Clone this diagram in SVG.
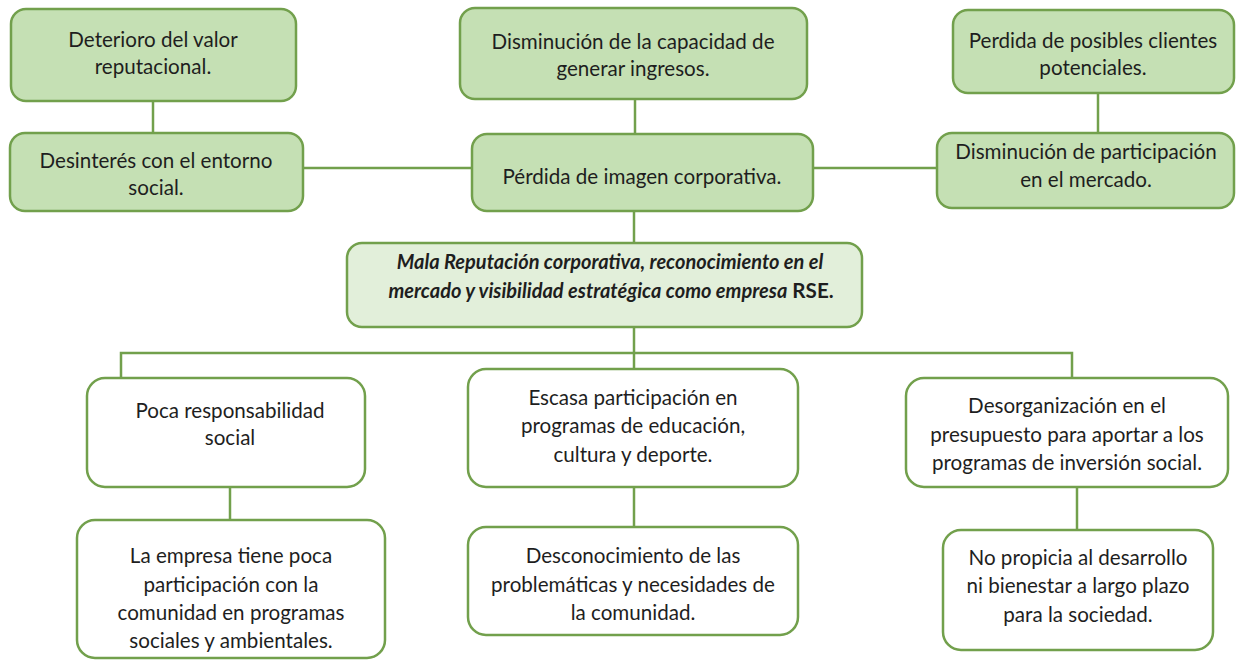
<svg xmlns="http://www.w3.org/2000/svg" width="1241" height="660" viewBox="0 0 1241 660">
<style>
.g{fill:#c5e0b4;stroke:#72a04c;stroke-width:2.5}
.c{fill:#e2efda;stroke:#72a04c;stroke-width:2.5}
.w{fill:#ffffff;stroke:#72a04c;stroke-width:2.5}
.t{font-family:Lato,"Open Sans",sans-serif;font-size:20.6px;fill:#1e1e1e;text-anchor:middle}
.b{font-weight:bold;font-style:italic;font-size:20px}
.e line,.e polyline{stroke:#72a04c;stroke-width:2.5;fill:none}
</style>
<rect width="1241" height="660" fill="#ffffff"/>
<g class="e" id="connectors">
<line x1="153" y1="101" x2="153" y2="133"/>
<line x1="303" y1="168" x2="472" y2="168"/>
<line x1="635" y1="99" x2="635" y2="134"/>
<line x1="813" y1="168" x2="937" y2="168"/>
<line x1="1098" y1="93" x2="1098" y2="133"/>
<line x1="634" y1="211" x2="634" y2="243"/>
<line x1="634" y1="327" x2="634" y2="369"/>
<polyline points="121,378 121,353 1072,353 1072,378"/>
<line x1="230" y1="487" x2="230" y2="520"/>
<line x1="634" y1="487" x2="634" y2="527"/>
<line x1="1077" y1="487" x2="1077" y2="530"/>
</g>
<g id="n1"><rect class="g" x="11" y="9" width="285" height="92" rx="15"/>
<text class="t" x="153" y="47">Deterioro del valor</text><text class="t" x="153" y="74">reputacional.</text></g>
<g id="n2"><rect class="g" x="10" y="133" width="293" height="78" rx="15"/>
<text class="t" x="156" y="168">Desinterés con el entorno</text><text class="t" x="156" y="195">social.</text></g>
<g id="n3"><rect class="g" x="460" y="8" width="347" height="91" rx="15"/>
<text class="t" x="633" y="49">Disminución de la capacidad de</text><text class="t" x="633" y="76">generar ingresos.</text></g>
<g id="n4"><rect class="g" x="472" y="134" width="341" height="77" rx="15"/>
<text class="t" x="642" y="184">Pérdida de imagen corporativa.</text></g>
<g id="n5"><rect class="g" x="953" y="10" width="281" height="83" rx="15"/>
<text class="t" x="1093" y="48">Perdida de posibles clientes</text><text class="t" x="1093" y="75">potenciales.</text></g>
<g id="n6"><rect class="g" x="937" y="133" width="297" height="75" rx="15"/>
<text class="t" x="1086" y="159">Disminución de participación</text><text class="t" x="1086" y="187">en el mercado.</text></g>
<g id="n7"><rect class="c" x="347" y="243" width="515" height="84" rx="15"/>
<text class="t b" x="610" y="269">Mala Reputación corporativa, reconocimiento en el</text>
<text class="t" x="611" y="298" font-size="20px"><tspan class="b">mercado y visibilidad estratégica como empresa</tspan><tspan font-weight="bold"> RSE.</tspan></text></g>
<g id="n8"><rect class="w" x="87" y="378" width="278" height="109" rx="18"/>
<text class="t" x="230" y="418">Poca responsabilidad</text><text class="t" x="230" y="445">social</text></g>
<g id="n9"><rect class="w" x="77" y="520" width="308" height="138" rx="18"/>
<text class="t" x="231" y="563">La empresa tiene poca</text><text class="t" x="231" y="592">participación con la</text><text class="t" x="231" y="620">comunidad en programas</text><text class="t" x="231" y="648">sociales y ambientales.</text></g>
<g id="n10"><rect class="w" x="468" y="369" width="330" height="118" rx="18"/>
<text class="t" x="633" y="405">Escasa participación en</text><text class="t" x="633" y="433">programas de educación,</text><text class="t" x="633" y="462">cultura y deporte.</text></g>
<g id="n11"><rect class="w" x="468" y="527" width="330" height="108" rx="18"/>
<text class="t" x="633" y="563">Desconocimiento de las</text><text class="t" x="633" y="592">problemáticas y necesidades de</text><text class="t" x="633" y="620">la comunidad.</text></g>
<g id="n12"><rect class="w" x="906" y="378" width="322" height="109" rx="18"/>
<text class="t" x="1067" y="413">Desorganización en el</text><text class="t" x="1067" y="442">presupuesto para aportar a los</text><text class="t" x="1067" y="470">programas de inversión social.</text></g>
<g id="n13"><rect class="w" x="943" y="530" width="270" height="120" rx="18"/>
<text class="t" x="1078" y="565">No propicia al desarrollo</text><text class="t" x="1078" y="593">ni bienestar a largo plazo</text><text class="t" x="1078" y="622">para la sociedad.</text></g>
</svg>
